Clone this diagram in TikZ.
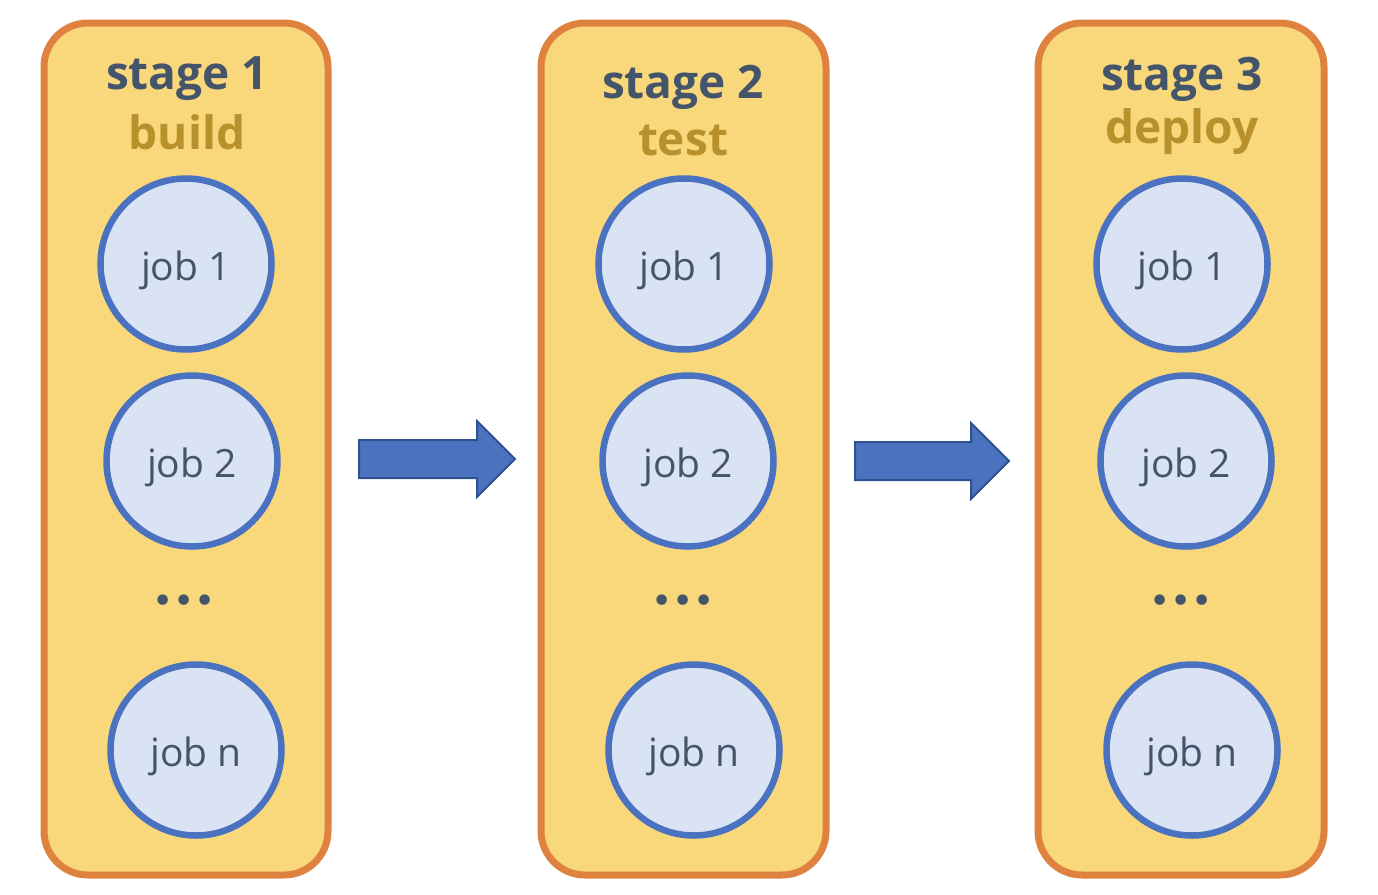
\documentclass[tikz,border=0pt]{standalone}
\usepackage{fontspec}
\setmainfont{Open Sans}
\newfontfamily\dejavu{DejaVu Sans}
\definecolor{boxfill}{HTML}{F8D87A}
\definecolor{boxline}{HTML}{E0823F}
\definecolor{jobfill}{HTML}{DAE3F3}
\definecolor{jobline}{HTML}{4A72C0}
\definecolor{txt}{HTML}{44546A}
\definecolor{gold}{HTML}{B8912C}
\definecolor{arrfill}{HTML}{4A72BF}
\definecolor{arrline}{HTML}{2F528F}
\tikzset{
  stagebox/.style={draw=boxline, fill=boxfill, line width=7pt, rounded corners=44pt},
  job/.style={circle, draw=jobline, fill=jobfill, line width=6.5pt, minimum size=171pt, inner sep=0pt, text=txt, font=\fontsize{39}{40}\selectfont, text height=32pt, text depth=0pt},
  stitle/.style={text=txt, font=\fontsize{46}{48}\selectfont\bfseries, inner sep=0pt},
  sname/.style={text=gold, font=\fontsize{46}{48}\selectfont\bfseries, inner sep=0pt},
  dots/.style={text=txt, font=\dejavu\fontsize{36}{36}\selectfont, inner sep=0pt},
  blockarrow/.style={fill=arrfill, draw=arrline, line width=2pt, line join=miter}
}
\begin{document}
\begin{tikzpicture}[x=1pt,y=-1pt]
\useasboundingbox (0,0) rectangle (1378,894);
% stage boxes
\draw[stagebox] (44,23) rectangle (328,875);
\draw[stagebox] (541,23) rectangle (826,875);
\draw[stagebox] (1038,23) rectangle (1324,875);
% titles
\node[stitle] (t1) at (187,79) {stage 1};
\node[sname] (n1) at (187,132) {build};
\node[stitle] (t2) at (683,87) {stage 2};
\node[sname] (n2) at (683,140) {test};
\node[stitle] (t3) at (1182,79) {stage 3};
\node[sname] (n3) at (1182,132) {deploy};
% jobs stage 1
\node[job] (a1) at (186,264) {job 1};
\node[job] (a2) at (192,461) {job 2};
\node[dots] (ad) at (184,604) {•\kern0pt•\kern0pt•};
\node[job] (an) at (196,750) {job n};
% jobs stage 2
\node[job] (b1) at (684,264) {job 1};
\node[job] (b2) at (688,461) {job 2};
\node[dots] (bd) at (683,604) {•\kern0pt•\kern0pt•};
\node[job] (bn) at (694,750) {job n};
% jobs stage 3
\node[job] (c1) at (1182,264) {job 1};
\node[job] (c2) at (1186,461) {job 2};
\node[dots] (cd) at (1181,604) {•\kern0pt•\kern0pt•};
\node[job] (cn) at (1192,750) {job n};
% arrows
\draw[blockarrow] (359,440) -- (477,440) -- (477,421) -- (515,459) -- (477,497) -- (477,478) -- (359,478) -- cycle;
\draw[blockarrow] (855,442) -- (971,442) -- (971,423) -- (1009,461) -- (971,499) -- (971,480) -- (855,480) -- cycle;
\end{tikzpicture}
\end{document}
